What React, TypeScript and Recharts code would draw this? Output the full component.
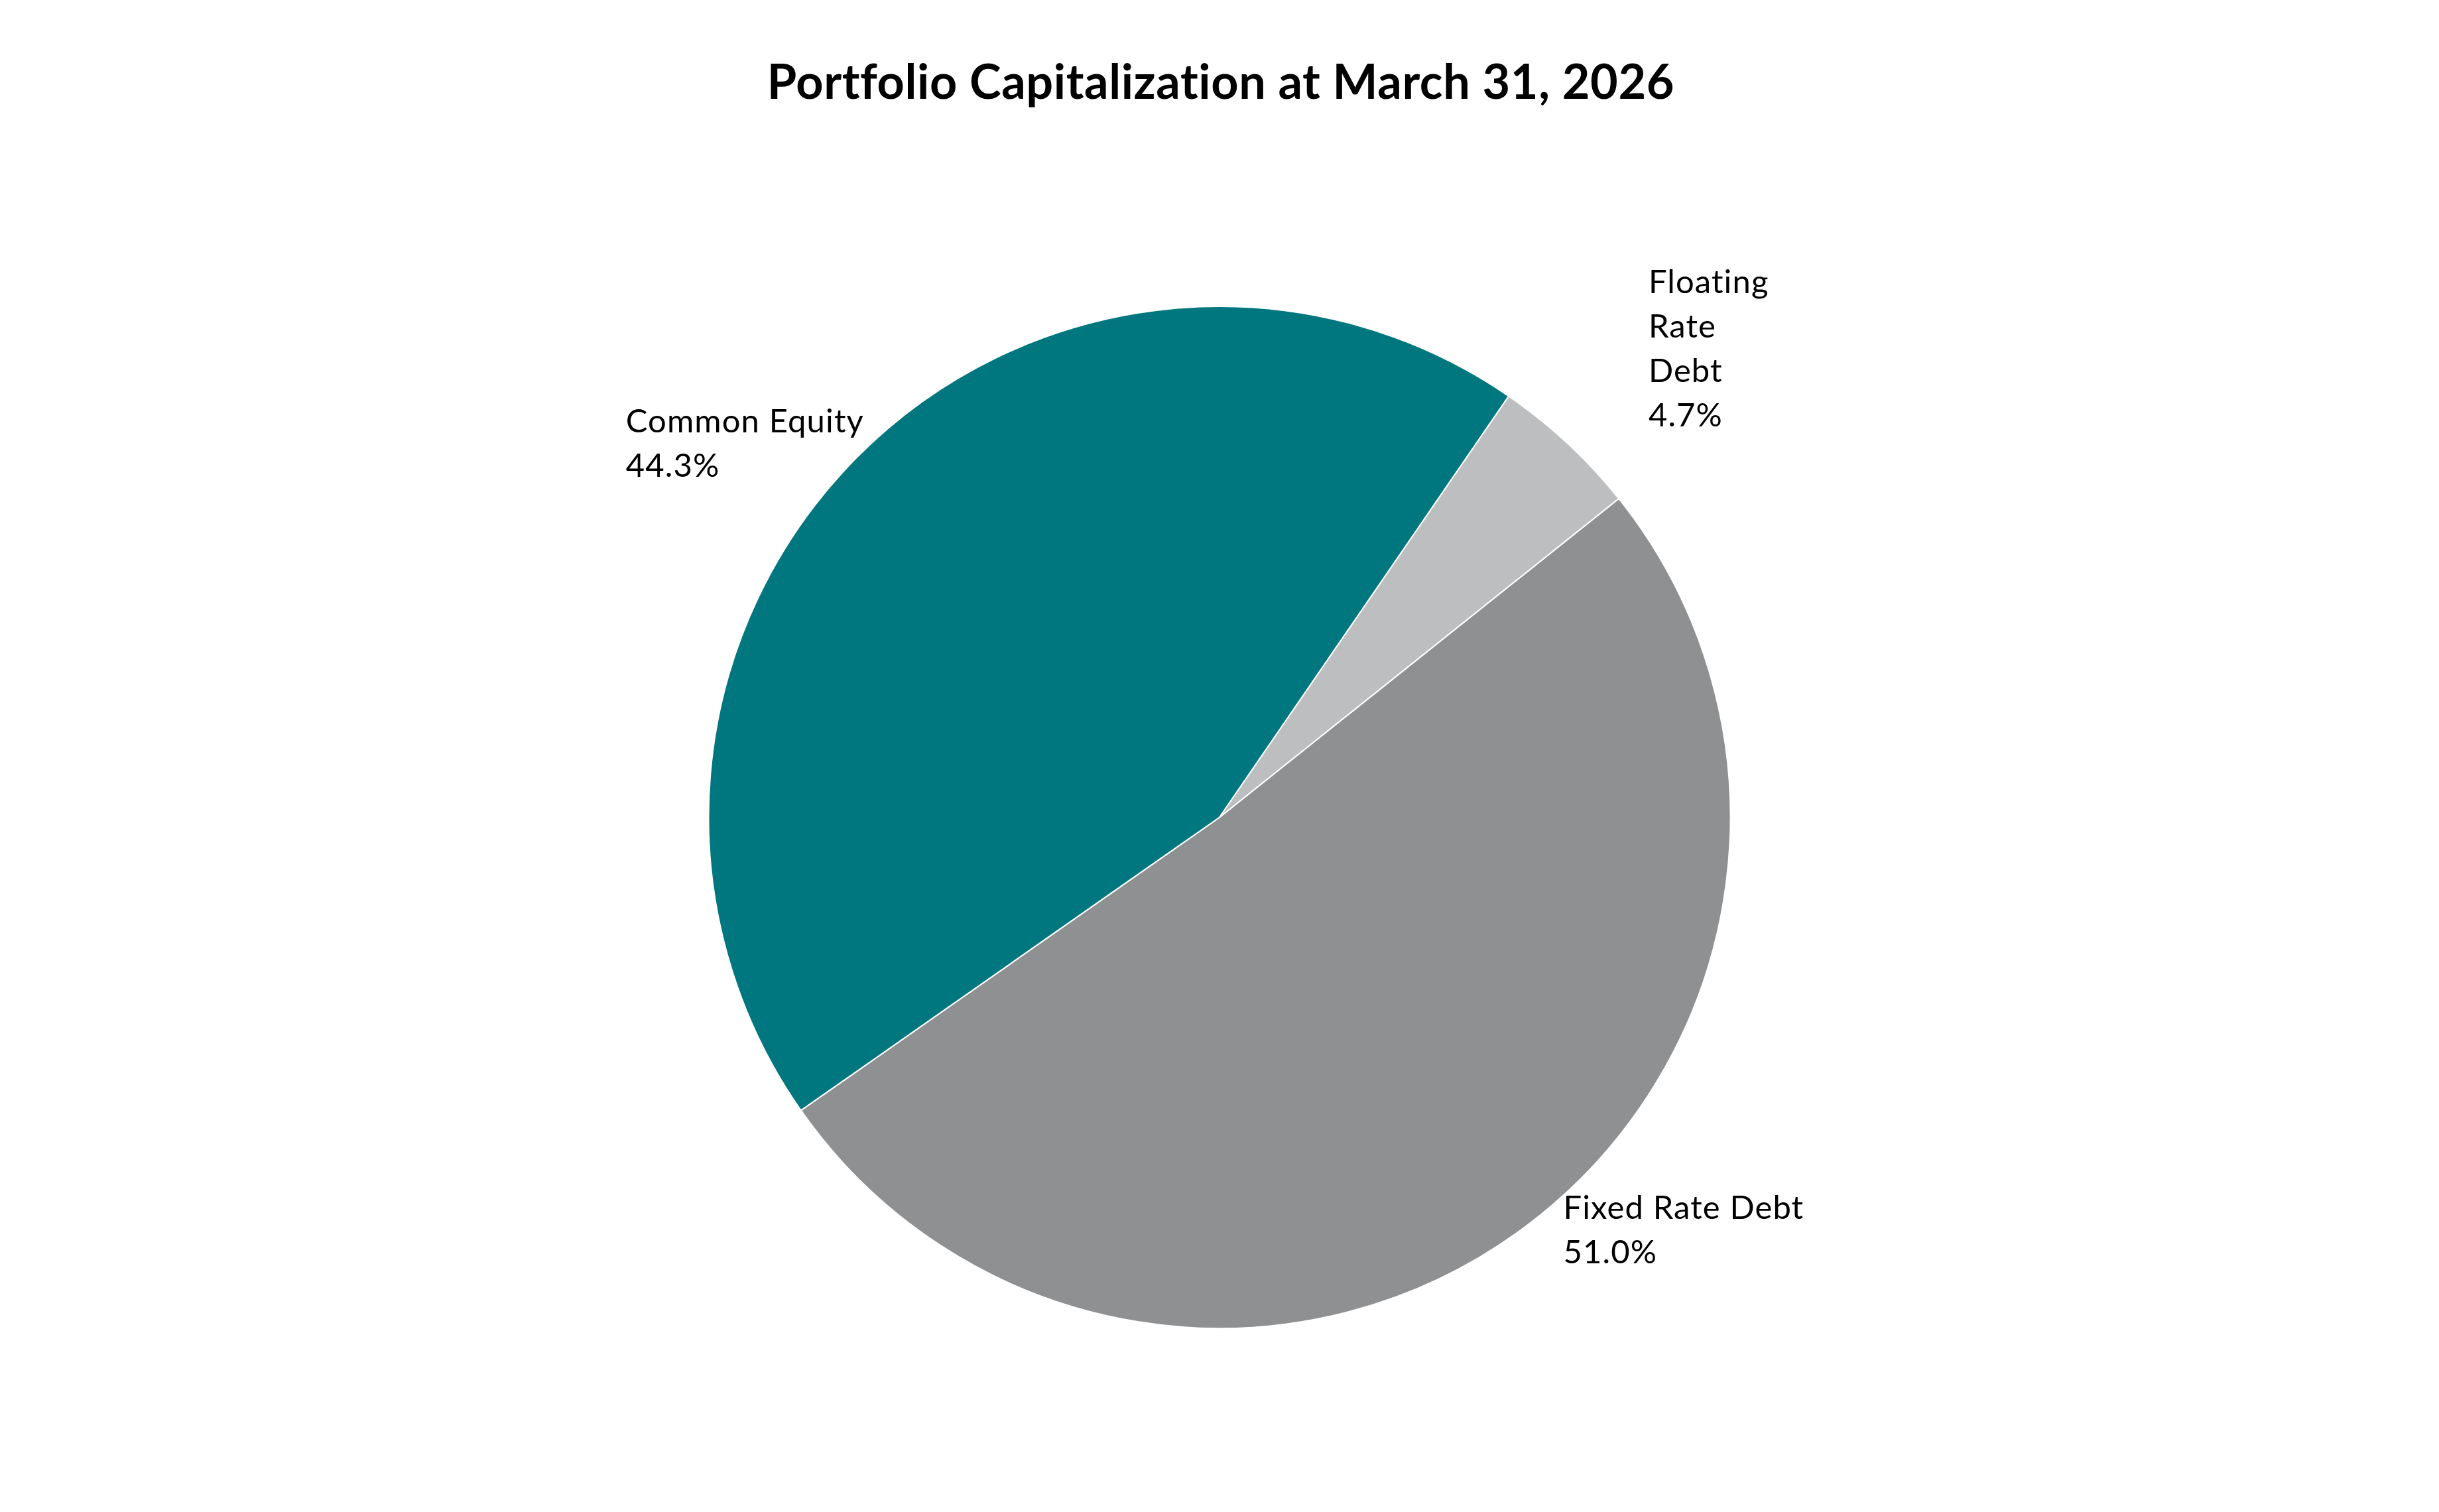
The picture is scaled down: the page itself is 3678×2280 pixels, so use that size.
import React from "react";
import { PieChart, Pie, Cell } from "recharts";

const categories = ["Fixed Rate Debt", "Common Equity", "Floating Rate Debt"];
const shares = [51.0, 44.3, 4.7];
// label text is wrapped the way the original chart wraps it
const labelLines = [["Fixed Rate Debt"], ["Common Equity"], ["Floating", "Rate", "Debt"]];
const colors = ["#8F9092", "#00767E", "#BDBEC0"];

const data = categories.map((name, i) => ({ name, value: shares[i] }));

// where each label box sits relative to the edge point at its slice's mid angle
const labelOffset = [
  { dx: 57, dy: -11 },
  { dx: -348, dy: -38 },
  { dx: 122, dy: -226 },
];

const RAD = Math.PI / 180;
const LINE = 66.7;

function renderLabel(props: any) {
  const { cx, cy, midAngle, outerRadius } = props;
  let index = props.index;
  if (index === undefined) index = categories.indexOf(props.name);
  const px = cx + outerRadius * Math.cos(-midAngle * RAD);
  const py = cy + outerRadius * Math.sin(-midAngle * RAD);
  const x = px + labelOffset[index].dx;
  const y = py + labelOffset[index].dy;
  const lines = [...labelLines[index], shares[index].toFixed(1) + "%"];
  return (
    <text
      key={"lbl-" + index}
      x={x}
      y={y}
      fill="#000"
      fontFamily="Lato"
      fontSize={49}
      letterSpacing={1.1}
      style={{ fontVariantLigatures: "none" }}
      textAnchor="start"
    >
      {lines.map((t, i) => (
        <tspan key={i} x={x} dy={i === 0 ? 0 : LINE}>
          {t}
        </tspan>
      ))}
    </text>
  );
}

export default function App() {
  return (
    <div style={{ position: "relative", width: 3678, height: 2280, background: "#fff" }}>
      <style>{`body{margin:0;overflow:hidden}`}</style>
      <div
        style={{
          position: "absolute",
          top: 78,
          left: 0,
          width: 3678,
          textAlign: "center",
          fontFamily: "Lato",
          fontWeight: 700,
          fontSize: 72,
          letterSpacing: 0.6,
          fontVariantLigatures: "none",
          lineHeight: "86px",
          color: "#000",
          paddingLeft: 4,
          boxSizing: "border-box",
        }}
      >
        Portfolio Capitalization at March 31, 2026
      </div>
      <PieChart width={3678} height={2280} margin={{ top: 0, right: 0, bottom: 0, left: 0 }}>
        <Pie
          data={data}
          dataKey="value"
          nameKey="name"
          cx={1839}
          cy={1232.5}
          outerRadius={770.5}
          startAngle={38.6}
          endAngle={-321.4}
          stroke="#fff"
          strokeWidth={2}
          label={renderLabel}
          labelLine={false}
          isAnimationActive={false}
        >
          {data.map((d, i) => (
            <Cell key={d.name} fill={colors[i]} />
          ))}
        </Pie>
      </PieChart>
    </div>
  );
}
